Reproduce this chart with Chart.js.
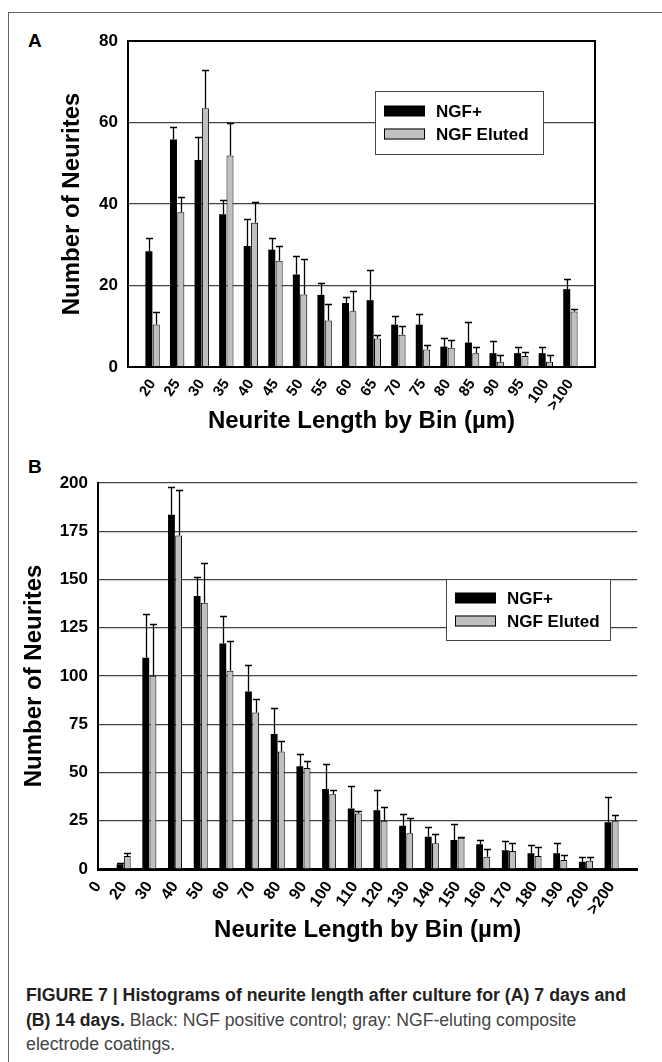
<!DOCTYPE html>
<html>
<head>
<meta charset="utf-8">
<script src="https://cdn.jsdelivr.net/npm/chart.js@4.4.0/dist/chart.umd.min.js"></script>
<style>
body { margin: 0; width: 662px; height: 1062px; overflow: hidden; background: #fff; position: relative; font-family: "Liberation Sans", Arial, sans-serif; }
#frame { position: absolute; left: 8px; top: 12px; width: 720px; height: 1100px; border: 1px solid #666; }
canvas { position: absolute; left: 0; }
.panel { position: absolute; font-weight: bold; font-size: 19px; line-height: 1; color: #000; }
.cap { position: absolute; left: 26px; font-size: 18px; line-height: 24px; white-space: nowrap; transform-origin: 0 50%; color: #444;
       font-family: "Liberation Sans Narrow", "Liberation Sans", Arial, sans-serif; }
.cap b { color: #231f20; }
</style>
</head>
<body>
<div id="frame"></div>
<div class="panel" style="left:28px;top:31px">A</div>
<div class="panel" style="left:28px;top:457px">B</div>
<canvas id="chartA" width="662" height="445" style="top:0"></canvas>
<canvas id="chartB" width="662" height="515" style="top:445px"></canvas>
<div class="cap" data-w="600" style="top:983px"><b>FIGURE 7 | Histograms of neurite length after culture for (A) 7 days and</b></div>
<div class="cap" data-w="550" style="top:1008px"><b>(B) 14 days.</b> Black: NGF positive control; gray: NGF-eluting composite</div>
<div class="cap" data-w="149" style="top:1032px">electrode coatings.</div>
<script>
// panel A: 7 days
const labelsA = ['', '20', '25', '30', '35', '40', '45', '50', '55', '60', '65', '70', '75', '80', '85', '90', '95', '100', '>100', ''];
const ngfA = [null, 28.4, 55.8, 50.8, 37.5, 29.7, 28.8, 22.7, 17.7, 15.7, 16.4, 10.4, 10.4, 5.0, 6.0, 3.4, 3.4, 3.4, 19.1, null];
const ngfAErr = [null, 31.6, 59, 56.4, 40.9, 36.2, 31.7, 27.2, 20.7, 17.2, 23.9, 12.6, 12.9, 7.0, 11.0, 6.4, 4.8, 4.8, 21.7, null];
const elutedA = [null, 10.4, 38, 63.5, 51.9, 35.4, 26.1, 17.8, 11.4, 13.7, 7.0, 7.9, 4.3, 4.7, 3.4, 1.3, 2.7, 1.3, 13.6, null];
const elutedAErr = [null, 13.5, 41.7, 73, 60, 40.4, 29.7, 26.4, 15.5, 18.7, 7.9, 10.0, 5.5, 6.7, 4.8, 2.9, 3.8, 2.9, 14.3, null];

// panel B: 14 days
const labelsB = ['0', '20', '30', '40', '50', '60', '70', '80', '90', '100', '110', '120', '130', '140', '150', '160', '170', '180', '190', '200', '>200', ''];
const ngfB = [null, 2.4, 109.4, 183.6, 141.5, 116.8, 92, 70, 53.3, 41.4, 31.4, 30.4, 22.4, 16.7, 15, 12.8, 9.7, 8.1, 8.1, 3.8, 24.2, null];
const ngfBErr = [null, 3.3, 132.2, 198.1, 151.2, 131, 105.6, 83.5, 59.7, 54.2, 42.8, 40.9, 28.5, 21.7, 23.3, 15.2, 14.3, 12.6, 13.6, 6.4, 37.4, null];
const elutedB = [null, 6.7, 100.1, 172.8, 137.9, 102.7, 81.1, 60.9, 52.3, 38.7, 28.8, 25.0, 18.5, 13.3, 16.2, 6.4, 9.3, 6.7, 4.7, 4.3, 24.7, null];
const elutedBErr = [null, 8.1, 126.7, 196.6, 158.4, 118.2, 88.2, 66.1, 55.9, 40.7, 30.2, 31.9, 26.2, 18.3, 16.4, 10.2, 13.3, 11.2, 7.1, 6.4, 27.8, null];

const seriesNames = ['NGF+', 'NGF Eluted'];
const fontFamily = '"Liberation Sans", Arial, sans-serif';

// upper error bars with caps
const errorBars = {
	id: 'errorBars',
	afterDatasetsDraw(chart) {
		const ctx = chart.ctx;
		const y = chart.scales.y;
		ctx.save();
		ctx.strokeStyle = '#000';
		ctx.lineWidth = 1.3;
		chart.data.datasets.forEach((ds, i) => {
			chart.getDatasetMeta(i).data.forEach((bar, j) => {
				const top = ds.errors[j];
				if (top == null || ds.data[j] == null) return;
				const yt = Math.round(y.getPixelForValue(top)) + 0.5;
				const x = Math.round(bar.x) + 0.5;
				ctx.beginPath();
				ctx.moveTo(x, bar.y);
				ctx.lineTo(x, yt);
				ctx.moveTo(x - 3.5, yt);
				ctx.lineTo(x + 3.5, yt);
				ctx.stroke();
			});
		});
		ctx.restore();
	}
};

// box round the whole plot (panel A only)
const plotFrame = {
	id: 'plotFrame',
	afterDraw(chart, args, opts) {
		if (!opts.display) return;
		const {left, top, right, bottom} = chart.chartArea;
		const ctx = chart.ctx;
		ctx.save();
		ctx.strokeStyle = '#000';
		ctx.lineWidth = 2;
		ctx.strokeRect(left, top, right - left, bottom - top);
		ctx.restore();
	}
};

// legend box sitting inside the plot
const boxLegend = {
	id: 'boxLegend',
	afterDraw(chart, args, opts) {
		const ctx = chart.ctx;
		ctx.save();
		ctx.fillStyle = '#fff';
		ctx.fillRect(opts.x, opts.y, opts.w, opts.h);
		ctx.strokeStyle = '#444';
		ctx.lineWidth = 1;
		ctx.strokeRect(opts.x + 0.5, opts.y + 0.5, opts.w, opts.h);
		ctx.font = 'bold 17px ' + fontFamily;
		ctx.textBaseline = 'middle';
		chart.data.datasets.forEach((ds, i) => {
			const cy = opts.y + opts.rows[i];
			ctx.fillStyle = ds.backgroundColor;
			ctx.fillRect(opts.x + 9, cy - 5.5, 41, 11);
			if (ds.borderWidth) {
				ctx.strokeStyle = '#000';
				ctx.strokeRect(opts.x + 9.5, cy - 5, 40, 10);
			}
			ctx.fillStyle = '#000';
			ctx.fillText(ds.label, opts.x + 61, cy + 1);
		});
		ctx.restore();
	}
};

function makeChart(id, labels, ngf, ngfErr, eluted, elutedErr, cfg) {
	return new Chart(document.getElementById(id), {
		type: 'bar',
		data: {
			labels: labels,
			datasets: [{
				label: seriesNames[0],
				data: ngf,
				errors: ngfErr,
				backgroundColor: '#000',
				borderWidth: 0,
				categoryPercentage: cfg.catPct,
				barPercentage: 0.95
			}, {
				label: seriesNames[1],
				data: eluted,
				errors: elutedErr,
				backgroundColor: '#c0c0c0',
				borderColor: '#000',
				borderWidth: 1,
				borderSkipped: 'bottom',
				categoryPercentage: cfg.catPct,
				barPercentage: 0.95
			}]
		},
		options: {
			responsive: false,
			animation: false,
			layout: { padding: cfg.padding },
			scales: {
				x: {
					offset: false,
					grid: { display: false, drawTicks: false },
					border: { display: true, color: '#000', width: cfg.xBorder },
					ticks: {
						autoSkip: false,
						minRotation: 55,
						maxRotation: 55,
						padding: 9,
						color: '#000',
						font: { family: fontFamily, weight: 'bold', size: cfg.xTickSize }
					},
					title: {
						display: true,
						text: 'Neurite Length by Bin (\u00b5m)',
						color: '#000',
						font: { family: fontFamily, weight: 'bold', size: 24 },
						padding: { top: 0, bottom: cfg.xTitlePad }
					},
					afterFit: (scale) => { scale.height = cfg.xHeight; }
				},
				y: {
					min: 0,
					max: cfg.yMax,
					ticks: {
						stepSize: cfg.yStep,
						padding: 10,
						color: '#000',
						font: { family: fontFamily, weight: 'bold', size: 17 }
					},
					grid: {
						drawTicks: false,
						lineWidth: 1.2,
						color: (c) => (c.tick.value === 0 || (cfg.frame && c.tick.value === cfg.yMax)) ? 'rgba(0,0,0,0)' : '#444'
					},
					border: { display: true, color: '#000', width: 2 },
					title: {
						display: true,
						text: 'Number of Neurites',
						color: '#000',
						font: { family: fontFamily, weight: 'bold', size: 24 },
						padding: { top: cfg.yTitlePad, bottom: 0 }
					},
					afterFit: (scale) => { scale.width = cfg.yWidth; }
				}
			},
			plugins: {
				legend: { display: false },
				tooltip: { enabled: false },
				plotFrame: { display: cfg.frame },
				boxLegend: cfg.legend
			}
		},
		plugins: [errorBars, plotFrame, boxLegend]
	});
}

makeChart('chartA', labelsA, ngfA, ngfAErr, elutedA, elutedAErr, {
	catPct: 0.6,
	padding: { top: 41, right: 67, left: 0, bottom: 0 },
	xHeight: 78, xTitlePad: 9, xTickSize: 15, xBorder: 2,
	yWidth: 128, yTitlePad: 58, yMax: 80, yStep: 20,
	frame: true,
	legend: { x: 375, y: 91, w: 168, h: 63, rows: [20, 43] }
});

makeChart('chartB', labelsB, ngfB, ngfBErr, elutedB, elutedBErr, {
	catPct: 0.56,
	padding: { top: 38, right: 11, left: 0, bottom: 0 },
	xHeight: 91, xTitlePad: 15, xTickSize: 16, xBorder: 3,
	yWidth: 98, yTitlePad: 20, yMax: 200, yStep: 25,
	frame: false,
	legend: { x: 446, y: 134, w: 164, h: 61, rows: [19, 42] }
});

// squeeze caption lines to the width they have in the figure
document.querySelectorAll('.cap').forEach((el) => {
	const w = el.scrollWidth;
	const target = +el.dataset.w;
	el.style.transform = 'scaleX(' + (target / w).toFixed(3) + ')';
});
</script>
</body>
</html>
